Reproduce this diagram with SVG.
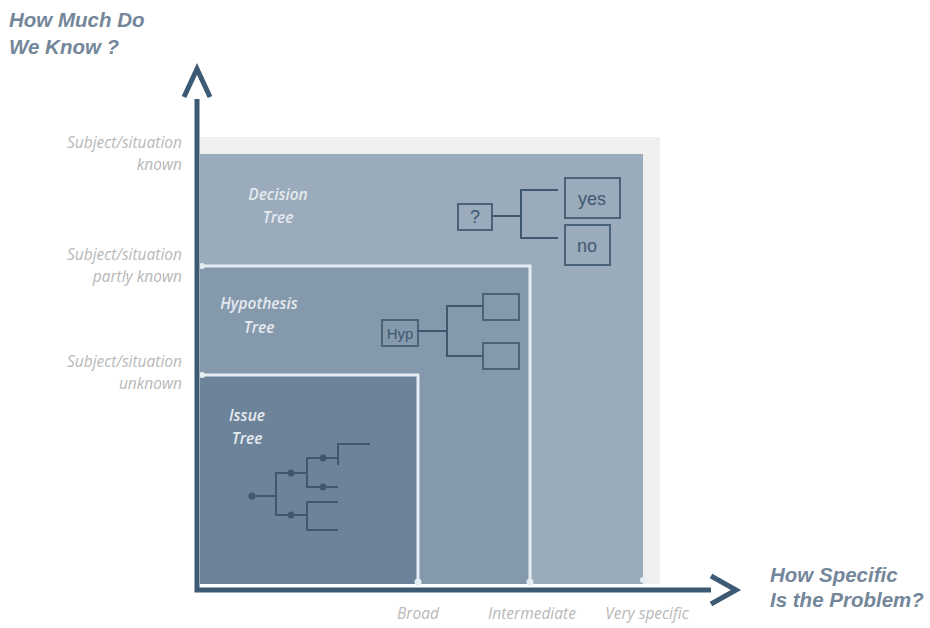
<svg xmlns="http://www.w3.org/2000/svg" width="930" height="628" viewBox="0 0 930 628">
<style>
.title{font-family:"Liberation Sans",Arial,sans-serif;font-weight:bold;font-style:italic;font-size:20.5px;fill:#74879a}
.lab{font-family:"Open Sans","Liberation Sans",sans-serif;font-style:italic;font-size:15.5px;fill:#b8b8b8}
.reg{font-family:"Open Sans","Liberation Sans",sans-serif;font-style:italic;font-weight:600;font-size:15.5px;fill:#e4e9ee;text-anchor:middle}
.box{fill:none;stroke:#4b6379;stroke-width:2}
.ln{fill:none;stroke:#3f5870;stroke-width:2}
.bt{font-family:"Liberation Sans",Arial,sans-serif;font-size:18px;fill:#3f5870;text-anchor:middle}
.edge{fill:none;stroke:#e6edf3;stroke-width:3}
.dot{fill:#e6edf3}
.axis{fill:none;stroke:#3c5a74;stroke-width:5}
.dk{fill:#3f5870}
</style>
<rect width="930" height="628" fill="#ffffff"/>
<g id="backdrop"><rect x="200" y="137" width="460" height="447" fill="#efefef"/></g>
<g id="decision-region">
<rect x="200" y="154" width="443" height="430" fill="#9aabbb"/>
<text class="reg" x="278" y="200">Decision</text>
<text class="reg" x="278" y="223">Tree</text>
<circle class="dot" cx="643" cy="580" r="3"/>
</g>
<g id="hypothesis-region">
<rect x="200" y="266" width="330" height="318" fill="#8599ac"/>
<path class="edge" d="M202 266 H530 V582"/>
<circle class="dot" cx="202" cy="266" r="3"/>
<circle class="dot" cx="530" cy="582" r="3.5"/>
<text class="reg" x="259" y="309">Hypothesis</text>
<text class="reg" x="259" y="333">Tree</text>
</g>
<g id="issue-region">
<rect x="200" y="375" width="218" height="209" fill="#6c8399"/>
<path class="edge" d="M202 375 H418 V582"/>
<circle class="dot" cx="202" cy="375" r="3"/>
<circle class="dot" cx="418" cy="582" r="3.5"/>
<text class="reg" x="247" y="421">Issue</text>
<text class="reg" x="247" y="444">Tree</text>
</g>
<g id="decision-tree">
<rect class="box" x="458" y="204" width="34" height="26"/>
<text class="bt" x="475" y="223">?</text>
<rect class="box" x="565" y="178" width="55" height="40"/>
<text class="bt" x="592" y="205">yes</text>
<rect class="box" x="565" y="225" width="45" height="40"/>
<text class="bt" x="587" y="252">no</text>
<path class="ln" d="M492 216 H521 M558 190 H521 V238 H558"/>
</g>
<g id="hypothesis-tree">
<rect class="box" x="382" y="320" width="36" height="26"/>
<text class="bt" x="400" y="339" style="font-size:15px">Hyp</text>
<rect class="box" x="483" y="294" width="36" height="26"/>
<rect class="box" x="483" y="343" width="36" height="26"/>
<path class="ln" d="M418 331 H447 M483 306 H447 V356 H483"/>
</g>
<g id="issue-tree">
<path class="ln" d="M252 496 H276 M307 473 H276 V515 H307 M338 458 H307 V487 H338 M338 465 V444 H370 M338 502 H307 V530 H338"/>
<circle class="dk" cx="252" cy="496" r="3.5"/>
<circle class="dk" cx="291" cy="473" r="3.5"/>
<circle class="dk" cx="291" cy="515" r="3.5"/>
<circle class="dk" cx="323" cy="458" r="3.5"/>
<circle class="dk" cx="323" cy="487" r="3.5"/>
</g>
<g id="axes">
<path class="axis" d="M197 99 V590 H711"/>
<path class="axis" d="M184 97 L197 69 L210 97"/>
<path class="axis" d="M711 576 L736 590 L711 604"/>
</g>
<g id="y-labels" text-anchor="end">
<text class="lab" x="182" y="148">Subject/situation</text>
<text class="lab" x="182" y="170">known</text>
<text class="lab" x="182" y="260">Subject/situation</text>
<text class="lab" x="182" y="282">partly known</text>
<text class="lab" x="182" y="367">Subject/situation</text>
<text class="lab" x="182" y="389">unknown</text>
</g>
<g id="x-labels" text-anchor="middle">
<text class="lab" x="418" y="619">Broad</text>
<text class="lab" x="532" y="619">Intermediate</text>
<text class="lab" x="647" y="619">Very specific</text>
</g>
<g id="titles">
<text class="title" x="9" y="27">How Much Do</text>
<text class="title" x="9" y="54">We Know ?</text>
<text class="title" x="770" y="582">How Specific</text>
<text class="title" x="770" y="607">Is the Problem?</text>
</g>
</svg>
